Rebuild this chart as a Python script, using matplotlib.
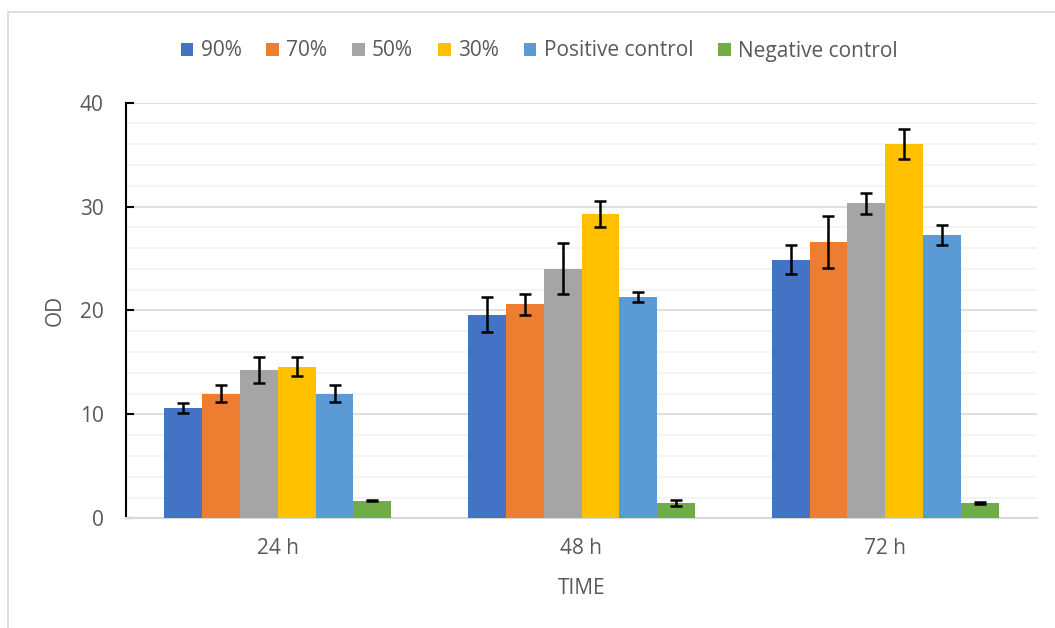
import matplotlib
matplotlib.use("Agg")
import matplotlib.pyplot as plt
import numpy as np
from matplotlib.patches import Rectangle, Patch

categories = ["24 h", "48 h", "72 h"]
series = ["90%", "70%", "50%", "30%", "Positive control", "Negative control"]
colors = ["#4472C4", "#ED7D31", "#A5A5A5", "#FFC000", "#5B9BD5", "#70AD47"]

v90 = [10.6, 19.6, 24.9]
v70 = [12.0, 20.6, 26.6]
v50 = [14.3, 24.0, 30.3]
v30 = [14.6, 29.3, 36.0]
vpos = [12.0, 21.3, 27.3]
vneg = [1.7, 1.5, 1.5]

e90 = [0.5, 1.7, 1.4]
e70 = [0.85, 1.0, 2.5]
e50 = [1.25, 2.45, 1.0]
e30 = [0.95, 1.27, 1.45]
epos = [0.85, 0.5, 0.95]
eneg = [0.05, 0.3, 0.1]

values = [v90, v70, v50, v30, vpos, vneg]
errors = [e90, e70, e50, e30, epos, eneg]

plt.rcParams['font.family'] = ['Open Sans', 'DejaVu Sans']
txt = "#595959"
fs = 15

fig = plt.figure(figsize=(10.55, 6.28), dpi=100)
ax = fig.add_axes([126/1055, 1-518.3/628, (1037-126)/1055, (518.3-102.7)/628])

x = np.arange(len(categories))
n = len(series)
group = 0.747
w = group / n
for i, (vals, errs, c) in enumerate(zip(values, errors, colors)):
    pos = x - group/2 + w*(i+0.5)
    ax.bar(pos, vals, width=w, color=c, zorder=3, edgecolor="none")
    ax.errorbar(pos, vals, yerr=errs, fmt="none", ecolor="black",
                elinewidth=1.8, capsize=4, capthick=1.8, zorder=4)

ax.set_xlim(-0.5, 2.5)
ax.set_ylim(0, 40)
ax.set_yticks([0, 10, 20, 30, 40])
ax.set_yticks(np.arange(0, 41, 2), minor=True)
ax.grid(axis="y", which="major", color="#D9D9D9", linewidth=1.2, zorder=0)
ax.grid(axis="y", which="minor", color="#F2F2F2", linewidth=1.2, zorder=0)
ax.set_xticks(x)
ax.set_xticklabels(categories)
for s in ["top", "right"]:
    ax.spines[s].set_visible(False)
ax.spines["bottom"].set_color("#D9D9D9")
ax.spines["bottom"].set_linewidth(1.5)
ax.spines["left"].set_color("black")
ax.spines["left"].set_linewidth(1.5)
ax.tick_params(axis="y", which="major", direction="in", length=6, width=1.5,
               color="black", labelcolor=txt, labelsize=fs, pad=16)
ax.tick_params(axis="y", which="minor", length=0)
ax.tick_params(axis="x", length=0, labelcolor=txt, labelsize=fs, pad=14)
ax.set_ylabel("OD", color=txt, fontsize=fs, labelpad=10)
ax.set_xlabel("TIME", color=txt, fontsize=fs, labelpad=14)

handles = [Patch(facecolor=c, edgecolor="none") for c in colors]
fig.legend(handles, series, loc="center", bbox_to_anchor=(0.511, 1-51/628),
           ncol=6, frameon=False, fontsize=fs, labelcolor=txt,
           handlelength=0.6, handleheight=0.6, handletextpad=0.35,
           columnspacing=1.2)

fig.patches.append(Rectangle((8/1055, -0.1), 1.2, 1.1 - 12/628,
                             transform=fig.transFigure, fill=False,
                             edgecolor="#D9D9D9", linewidth=1.2))

fig.savefig("out.png", dpi=100)
